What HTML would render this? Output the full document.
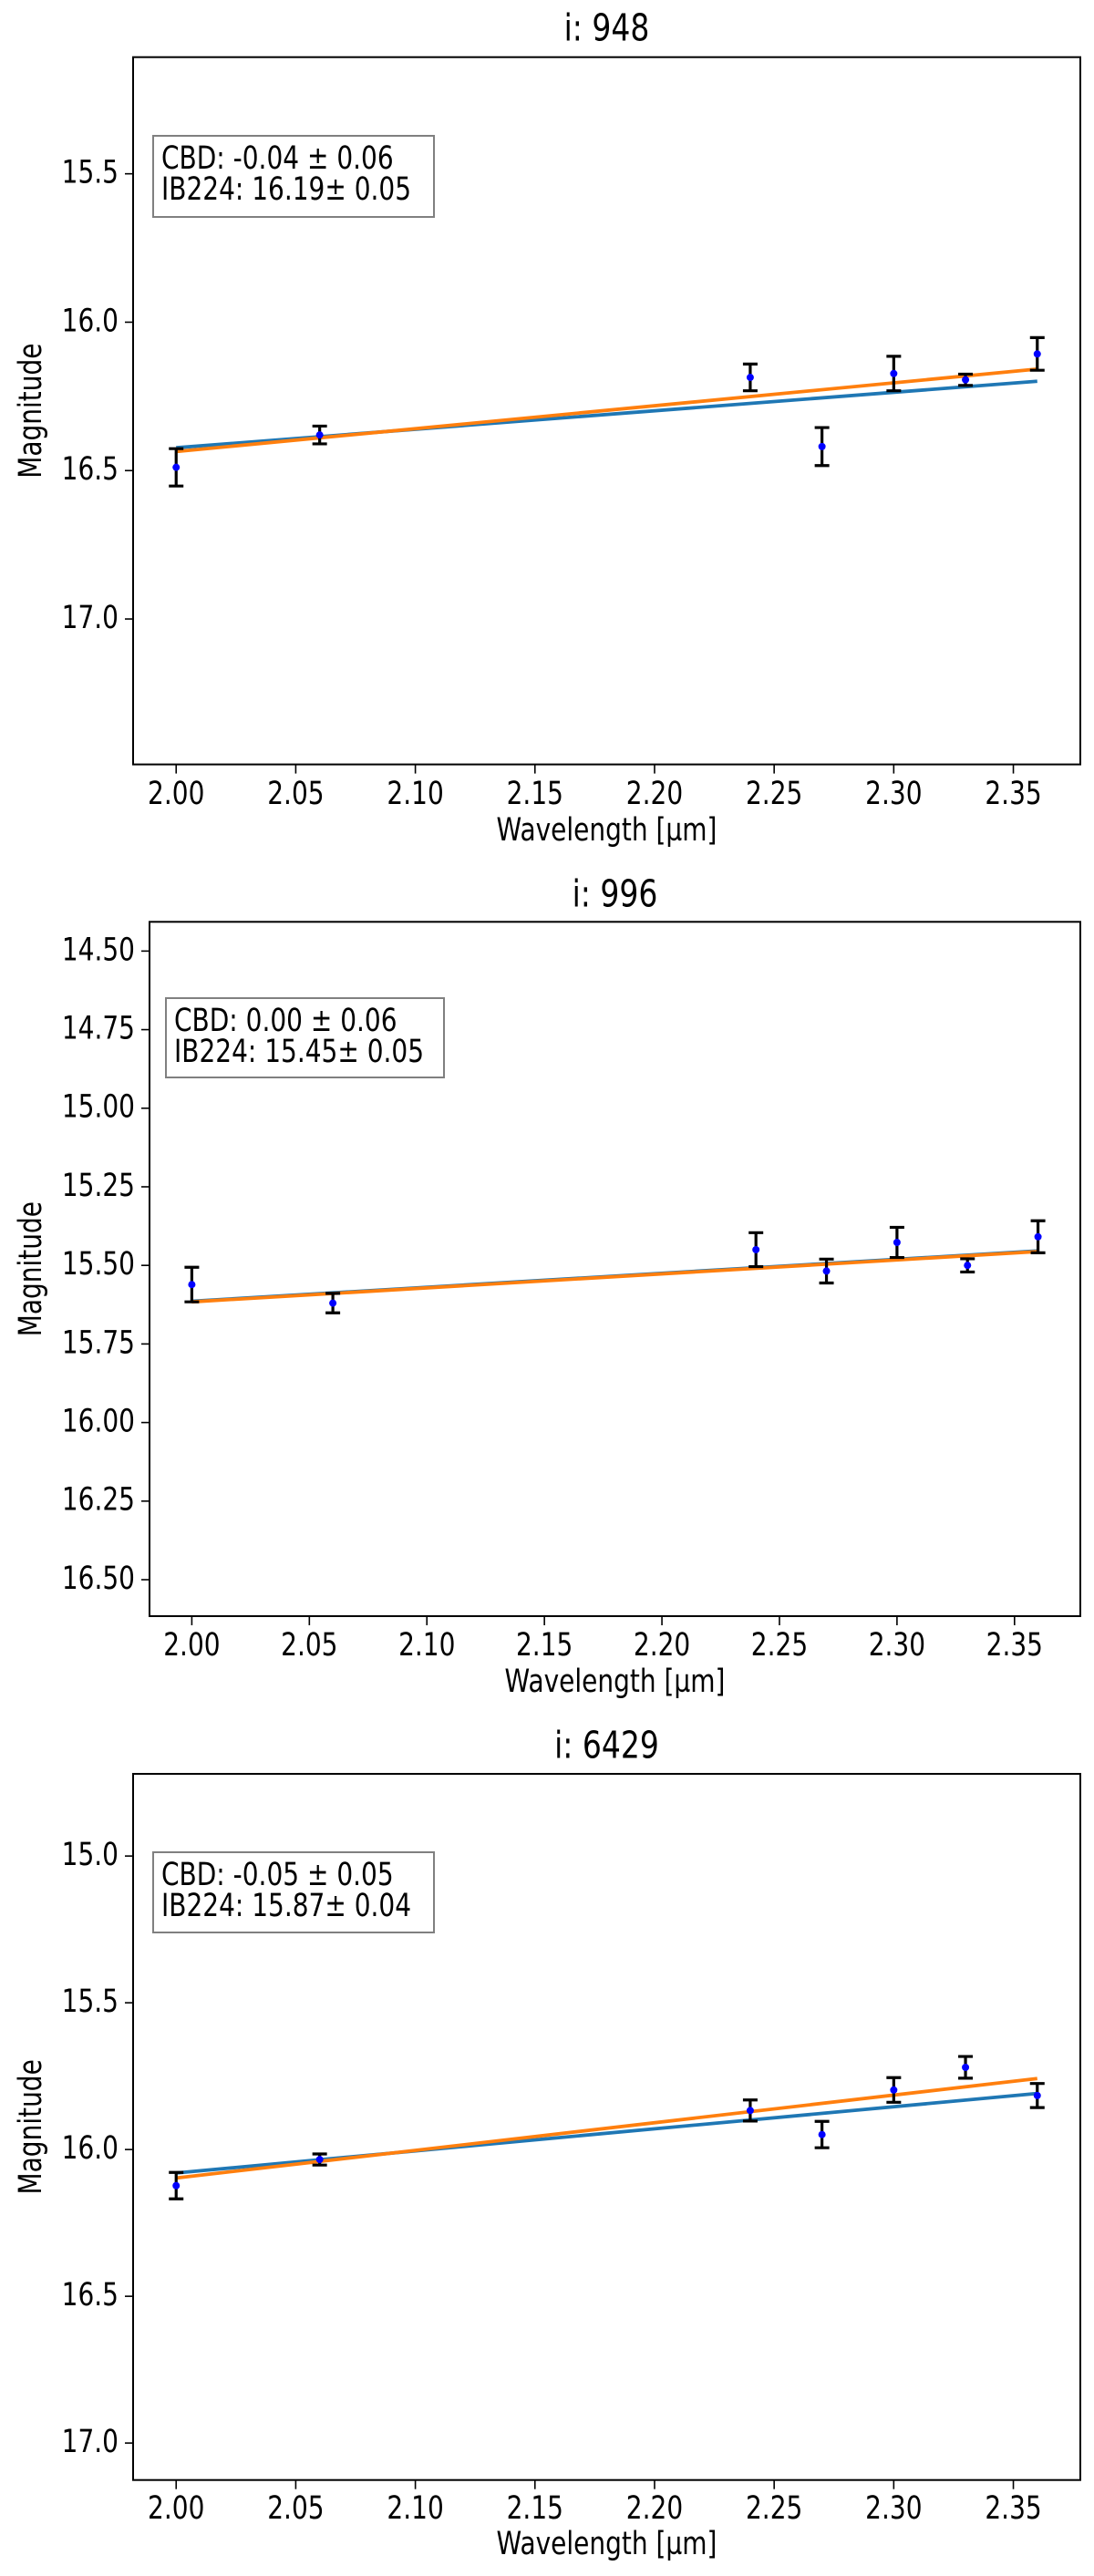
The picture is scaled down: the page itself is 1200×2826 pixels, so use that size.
<!DOCTYPE html>
<html><head><meta charset="utf-8"><style>
html,body{margin:0;padding:0;background:#fff;}
svg{display:block;font-family:"DejaVu Sans","Liberation Sans",sans-serif;}
</style></head><body>
<svg id="fig" width="1200" height="2826" viewBox="0 0 1200 2826" xmlns="http://www.w3.org/2000/svg"></svg>
<script>
// ---- data ----
const wavelengths = [2.00, 2.06, 2.24, 2.27, 2.30, 2.33, 2.36];
const mag948 = [16.489, 16.38, 16.186, 16.419, 16.173, 16.194, 16.107];
const err948 = [0.063, 0.03, 0.045, 0.064, 0.058, 0.019, 0.055];
const blue948 = [16.423, 16.199];
const orange948 = [16.436, 16.158];
const mag996 = [15.561, 15.62, 15.45, 15.518, 15.427, 15.5, 15.409];
const err996 = [0.055, 0.031, 0.054, 0.038, 0.048, 0.021, 0.051];
const blue996 = [15.614, 15.454];
const orange996 = [15.616, 15.456];
const mag6429 = [16.123, 16.034, 15.867, 15.949, 15.797, 15.72, 15.816];
const err6429 = [0.045, 0.019, 0.036, 0.045, 0.042, 0.037, 0.041];
const blue6429 = [16.08, 15.809];
const orange6429 = [16.097, 15.758];
const fitRange = [2.00, 2.36];
const xTicks = [2.00, 2.05, 2.10, 2.15, 2.20, 2.25, 2.30, 2.35];
const yTicks948 = [15.5, 16.0, 16.5, 17.0];
const yTicks996 = [14.50, 14.75, 15.00, 15.25, 15.50, 15.75, 16.00, 16.25, 16.50];
const yTicks6429 = [15.0, 15.5, 16.0, 16.5, 17.0];

const NS = "http://www.w3.org/2000/svg";
const fig = document.getElementById('fig');
const SY = 1.25;
function mk(tag, attrs, parent){const e=document.createElementNS(NS,tag);for(const k in attrs)e.setAttribute(k,attrs[k]);(parent||fig).appendChild(e);return e;}
function txt(parent,x,y,size,anchor,str,rot){
  const tr = rot ? `translate(${x},${y}) rotate(-90) scale(1,${SY})` : `translate(${x},${y}) scale(1,${SY})`;
  const t=mk('text',{x:0,y:0,'font-size':size,'text-anchor':anchor,'dominant-baseline':'middle',transform:tr},parent);
  t.textContent=str;
  return t;
}

const panels = [
 {id:'948',title:'i: 948',left:146,right:1185,top:62.7,bottom:838.6,ymin:15.107,ymax:17.49,yt:yTicks948,dec:1,mag:mag948,err:err948,blue:blue948,orange:orange948,
  titleY:33,xtY:872,xlY:912,leg:[168,149,476,238],legText:['CBD: -0.04 \u00b1 0.06','IB224: 16.19\u00b1 0.05']},
 {id:'996',title:'i: 996',left:164,right:1185,top:1011.3,bottom:1773,ymin:14.407,ymax:16.616,yt:yTicks996,dec:2,mag:mag996,err:err996,blue:blue996,orange:orange996,
  titleY:983,xtY:1806,xlY:1846,leg:[182,1095,487,1182],legText:['CBD: 0.00 \u00b1 0.06','IB224: 15.45\u00b1 0.05']},
 {id:'6429',title:'i: 6429',left:146,right:1185,top:1946,bottom:2720.7,ymin:14.72,ymax:17.126,yt:yTicks6429,dec:1,mag:mag6429,err:err6429,blue:blue6429,orange:orange6429,
  titleY:1917,xtY:2753,xlY:2792,leg:[168,2032,476,2120],legText:['CBD: -0.05 \u00b1 0.05','IB224: 15.87\u00b1 0.04']}
];
const xmin=1.982, xmax=2.378;

panels.forEach(p=>{
  const g = mk('g',{});
  
  
  const X = v => p.left + (v-xmin)/(xmax-xmin)*(p.right-p.left);
  const Y = v => p.top + (v-p.ymin)/(p.ymax-p.ymin)*(p.bottom-p.top);
  const t = txt(g,(p.left+p.right)/2,p.titleY,33,'middle',p.title);
  
  
  xTicks.forEach(v=>{
    mk('line',{x1:X(v),x2:X(v),y1:p.bottom,y2:p.bottom+10,stroke:'#000','stroke-width':1.6},g);
    const tl=txt(g,X(v),p.xtY,28,'middle',v.toFixed(2));
    
    
  });
  p.yt.forEach(v=>{
    mk('line',{x1:p.left-9,x2:p.left,y1:Y(v),y2:Y(v),stroke:'#000','stroke-width':1.6},g);
    const tl=txt(g,p.left-16,Y(v),28,'end',v.toFixed(p.dec));
    
    
  });
  const xl=txt(g,(p.left+p.right)/2,p.xlY,28,'middle','Wavelength [\u00b5m]');
  
  
  const cy=(p.top+p.bottom)/2;
  const yl=txt(g,35,cy,28,'middle','Magnitude',true);
  
  
  const bl=mk('line',{x1:X(fitRange[0]),y1:Y(p.blue[0]),x2:X(fitRange[1]),y2:Y(p.blue[1]),stroke:'#1f77b4','stroke-width':3.8},g);
  
  
  const ol=mk('line',{x1:X(fitRange[0]),y1:Y(p.orange[0]),x2:X(fitRange[1]),y2:Y(p.orange[1]),stroke:'#ff7f0e','stroke-width':3.8},g);
  
  
  wavelengths.forEach((w,i)=>{
    const x=X(w), y1=Y(p.mag[i]-p.err[i]), y2=Y(p.mag[i]+p.err[i]);
    const eb=mk('path',{d:`M${x},${y1}V${y2}M${x-8},${y1}H${x+8}M${x-8},${y2}H${x+8}`,stroke:'#000','stroke-width':3.2,fill:'none'},g);
    
    
    const pt=mk('circle',{cx:x,cy:Y(p.mag[i]),r:4,fill:'#0000ff'},g);
    
    
  });
  const [lx1,ly1,lx2,ly2]=p.leg;
  const lb=mk('rect',{x:lx1,y:ly1,width:lx2-lx1,height:ly2-ly1,fill:'#fff',stroke:'#808080','stroke-width':2},g);
  
  
  p.legText.forEach((s,k)=>{
    const tt=txt(g,lx1+9,ly1+26+k*34,28,'start',s);
    
    
  });
  const fr=mk('rect',{x:p.left,y:p.top,width:p.right-p.left,height:p.bottom-p.top,fill:'none',stroke:'#000','stroke-width':2},g);
  
  
});
</script>
</body></html>
